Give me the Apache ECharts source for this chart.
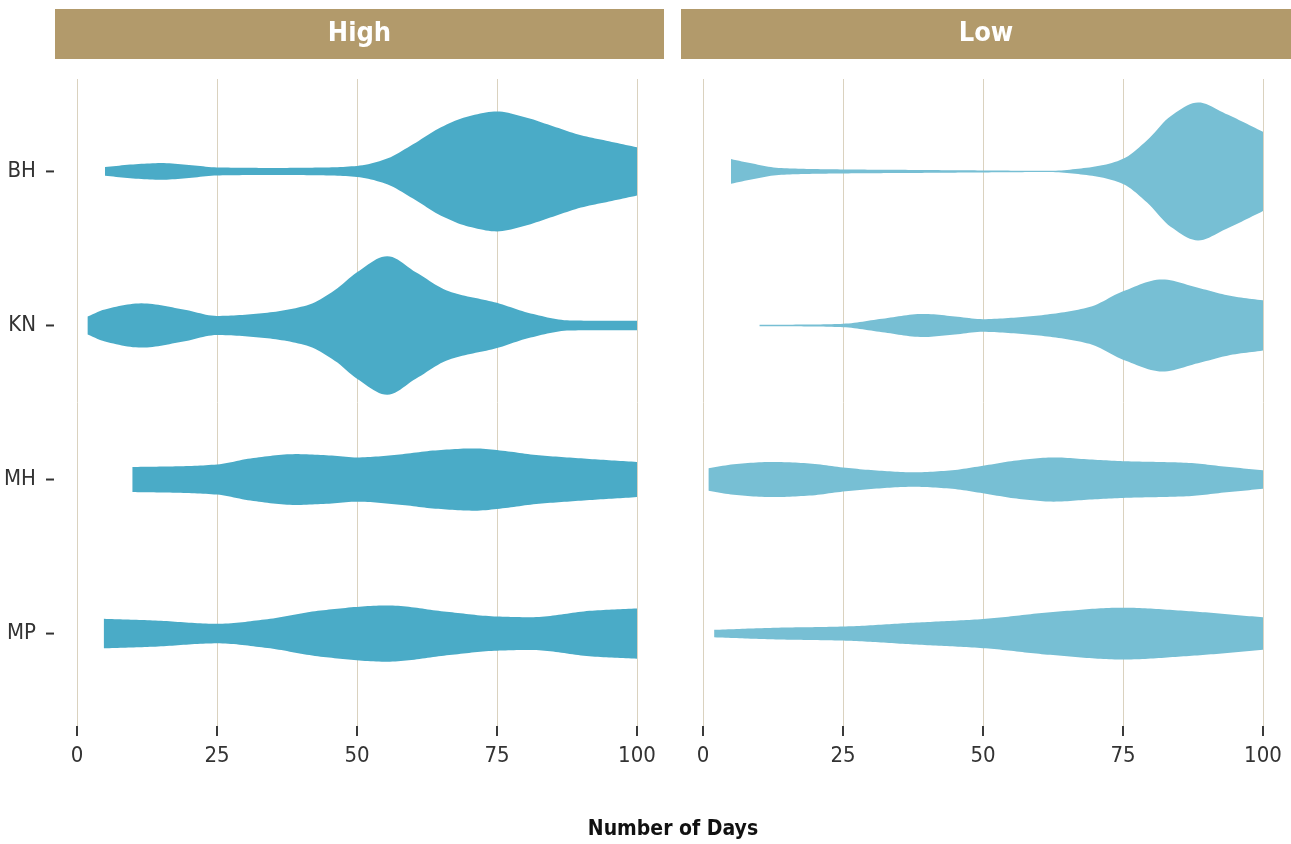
<!DOCTYPE html>
<html>
<head>
<meta charset="utf-8">
<script src="https://cdn.jsdelivr.net/npm/echarts@6/dist/echarts.min.js"></script>
<style>
  html, body { margin: 0; padding: 0; background: #ffffff; }
  #chart { width: 1291px; height: 844px; }
</style>
</head>
<body>
<div id="chart"></div>
<script>
// ---------- data ----------
const facets = ['High', 'Low'];
const categories = ['BH', 'KN', 'MH', 'MP'];
const xTicks = [0, 25, 50, 75, 100];
const xTitle = 'Number of Days';

// violin profiles: days (x) and relative density (half-width)
const highBHDays    = [5, 10, 15, 20, 25, 35, 45, 50, 55, 60, 65, 70, 75, 80, 85, 90, 95, 100];
const highBHDensity = [4.3, 7, 8.3, 6.5, 4, 3.5, 4, 5.5, 12, 27, 44, 55, 59.7, 54, 45, 36, 30, 24];
const highKNDays    = [1.9, 5, 11.5, 19, 25, 33.5, 41, 46, 50, 55.4, 60.5, 66.4, 75, 81, 88, 94, 100];
const highKNDensity = [9, 16, 22, 16, 9.5, 12.5, 20, 35, 53, 69, 53, 34, 22.5, 12, 5, 4.7, 4.7];
const highMHDays    = [9.9, 19, 25, 31, 39, 45, 50, 57.6, 64, 71, 77, 81, 92, 100];
const highMHDensity = [12.5, 13.3, 15, 21, 25.3, 24, 22, 25, 29, 31, 28, 25, 20.3, 17.5];
const highMPDays    = [4.8, 14, 25, 33.5, 44, 55.4, 66, 75, 81, 92, 100];
const highMPDensity = [14.7, 13, 9.7, 14, 23.3, 28, 21.7, 17, 16.3, 22.8, 25];

const lowBHDays     = [5, 8.4, 14, 25, 37.6, 50, 62, 68, 72, 75, 79.3, 83.5, 88.4, 93.3, 100];
const lowBHDensity  = [12.3, 8.3, 3.3, 2, 1.5, 1, 0.6, 3.3, 7, 12.5, 31, 55, 68.7, 57.5, 39.5];
const lowKNDays     = [10.1, 20, 25, 32, 39.3, 45, 50, 56, 62, 69, 75, 82, 88.4, 94.6, 100];
const lowKNDensity  = [0.7, 1, 1.7, 6.7, 11.5, 9, 6.3, 8, 11.3, 18.3, 34, 45.8, 37.5, 29, 25];
const lowMHDays     = [1, 6, 12.5, 19, 25, 31, 37.6, 44, 50, 56, 62.6, 69, 75, 86.3, 93, 100];
const lowMHDensity  = [11.2, 15.5, 17.5, 16, 12, 9, 7.2, 9, 13.7, 19, 22, 20, 18.3, 16.7, 13, 9.2];
const lowMPDays     = [2, 13, 25, 37.6, 50, 62, 75, 86.3, 100];
const lowMPDensity  = [3.7, 5.8, 7, 10.8, 14.5, 21.2, 25.8, 22.5, 16.2];

const facetColors = { High: '#4aabc7', Low: '#77bfd4' };

// ---------- helpers ----------
const profiles = {
  High: [[highBHDays, highBHDensity], [highKNDays, highKNDensity], [highMHDays, highMHDensity], [highMPDays, highMPDensity]],
  Low:  [[lowBHDays, lowBHDensity], [lowKNDays, lowKNDensity], [lowMHDays, lowMHDensity], [lowMPDays, lowMPDensity]]
};
let globalMax = 0;
facets.forEach(f => profiles[f].forEach(p => p[1].forEach(v => { if (v > globalMax) globalMax = v; })));

// monotone cubic (PCHIP) sampling
function pchip(xs, ys, step) {
  const n = xs.length;
  const h = [], d = [];
  for (let i = 0; i < n - 1; i++) { h.push(xs[i + 1] - xs[i]); d.push((ys[i + 1] - ys[i]) / h[i]); }
  const m = new Array(n).fill(0);
  m[0] = d[0]; m[n - 1] = d[n - 2];
  for (let i = 1; i < n - 1; i++) {
    if (d[i - 1] * d[i] <= 0) m[i] = 0;
    else {
      const w1 = 2 * h[i] + h[i - 1], w2 = h[i] + 2 * h[i - 1];
      m[i] = (w1 + w2) / (w1 / d[i - 1] + w2 / d[i]);
    }
  }
  const out = [];
  for (let i = 0; i < n - 1; i++) {
    const steps = Math.max(2, Math.ceil(h[i] / step));
    for (let s = 0; s < steps; s++) {
      const t = s / steps, t2 = t * t, t3 = t2 * t;
      const y = (2 * t3 - 3 * t2 + 1) * ys[i] + (t3 - 2 * t2 + t) * h[i] * m[i]
              + (-2 * t3 + 3 * t2) * ys[i + 1] + (t3 - t2) * h[i] * m[i + 1];
      out.push([xs[i] + t * h[i], Math.max(0.15, y)]);
    }
  }
  out.push([xs[n - 1], ys[n - 1]]);
  return out;
}
const sampled = {};
facets.forEach(f => { sampled[f] = profiles[f].map(p => pchip(p[0], p[1], 0.5)); });

function makeRender(facet) {
  return function (params, api) {
    const ci = api.value(2);
    const prof = sampled[facet][ci];
    const unit = api.size([0, 1])[1];
    const k = 0.45 * unit / globalMax;
    const top = [], bottom = [];
    prof.forEach(([x, dens]) => {
      const p = api.coord([x, ci + 1]);
      top.push([p[0], p[1] - dens * k]);
      bottom.push([p[0], p[1] + dens * k]);
    });
    return {
      type: 'polygon',
      shape: { points: top.concat(bottom.reverse()) },
      style: { fill: facetColors[facet] }
    };
  };
}

// ---------- chart ----------
const FONT = '"DejaVu Sans Condensed", "Liberation Sans Narrow", "Roboto", sans-serif';
const chart = echarts.init(document.getElementById('chart'), null, { renderer: 'canvas' });

const grids = [
  { left: 77, width: 560, top: 79, height: 647 },
  { left: 703, width: 560, top: 79, height: 647 }
];

const xAxes = facets.map((f, i) => ({
  type: 'value', gridIndex: i, min: xTicks[0], max: xTicks[xTicks.length - 1], interval: 25,
  axisLine: { show: false },
  axisTick: { show: true, length: 10, lineStyle: { color: '#3a3a3a', width: 2 } },
  axisLabel: { color: '#333', fontSize: 22, fontFamily: FONT, margin: 19 },
  splitLine: { show: true, lineStyle: { color: '#dad2bf', width: 1 } }
}));

const yAxes = facets.map((f, i) => ({
  type: 'value', gridIndex: i, min: 0.4, max: 4.6, inverse: true,
  show: i === 0,
  axisLine: { show: false },
  axisTick: { show: false },
  axisLabel: {
    show: true, customValues: [1, 2, 3, 4], margin: 23,
    formatter: v => '{a|' + (categories[Math.round(v) - 1] || '') + '}{s|}{t|}',
    rich: {
      a: { color: '#333', fontSize: 22, fontFamily: FONT },
      s: { width: 10 },
      t: { width: 8, height: 2, backgroundColor: '#333', verticalAlign: 'middle' }
    }
  },
  splitLine: { show: false }
}));

const series = facets.map((f, i) => ({
  type: 'custom', name: f, xAxisIndex: i, yAxisIndex: i, clip: false,
  renderItem: makeRender(f),
  encode: { x: 0, y: 1 },
  data: categories.map((c, ci) => [50, ci + 1, ci]),
  silent: true
}));

const stripStyle = { fill: '#b29a6b' };
const graphic = [
  { type: 'rect', shape: { x: 55, y: 9, width: 609, height: 50 }, style: stripStyle, silent: true },
  { type: 'rect', shape: { x: 681, y: 9, width: 610, height: 50 }, style: stripStyle, silent: true },
  { type: 'text', x: 359.5, y: 34, style: { text: facets[0], fill: '#ffffff', font: 'bold 27px ' + FONT, textAlign: 'center', textVerticalAlign: 'middle' }, silent: true },
  { type: 'text', x: 986, y: 34, style: { text: facets[1], fill: '#ffffff', font: 'bold 27px ' + FONT, textAlign: 'center', textVerticalAlign: 'middle' }, silent: true },
  { type: 'text', x: 673, y: 830, style: { text: xTitle, fill: '#111111', font: 'bold 21px ' + FONT, textAlign: 'center', textVerticalAlign: 'middle' }, silent: true }
];

chart.setOption({
  backgroundColor: '#ffffff',
  animation: false,
  grid: grids,
  xAxis: xAxes,
  yAxis: yAxes,
  series: series,
  graphic: graphic
});
</script>
</body>
</html>
